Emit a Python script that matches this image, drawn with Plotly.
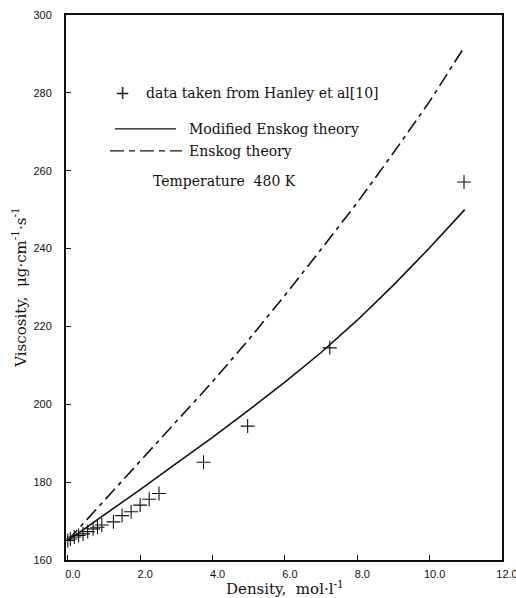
import plotly.graph_objects as go

# Experimental data (Hanley et al.)
data_x = [0.0, 0.07, 0.18, 0.30, 0.42, 0.55, 0.70, 0.82, 0.94, 1.26, 1.50, 1.75, 2.00, 2.25, 2.52, 3.75, 4.97, 7.24, 10.95]
data_y = [165.0, 165.4, 165.9, 166.3, 166.7, 167.3, 168.0, 168.4, 169.0, 169.8, 171.4, 172.4, 174.1, 175.6, 177.1, 185.1, 194.4, 214.5, 257.1]

# Modified Enskog theory
mod_x = [0.0, 1.0, 2.0, 3.0, 4.0, 5.0, 6.0, 7.0, 8.0, 9.0, 10.0, 10.97]
mod_y = [165.0, 171.5, 178.1, 184.8, 191.5, 198.5, 205.7, 213.3, 221.6, 230.6, 240.2, 250.0]

# Enskog theory
ens_x = [0.0, 1.0, 2.0, 3.0, 4.0, 5.0, 6.0, 7.0, 8.0, 9.0, 10.0, 10.92]
ens_y = [165.0, 175.2, 185.5, 195.6, 205.8, 216.6, 228.0, 239.8, 251.8, 264.6, 277.8, 291.2]

x_ticks = [0, 2, 4, 6, 8, 10, 12]
y_ticks = [160, 180, 200, 220, 240, 260, 280, 300]

SERIF = "DejaVu Serif"
INK = "#111111"

fig = go.Figure()
fig.add_trace(go.Scatter(x=mod_x, y=mod_y, mode="lines", line=dict(color=INK, width=1.6),
                         showlegend=False, hoverinfo="skip"))
fig.add_trace(go.Scatter(x=ens_x, y=ens_y, mode="lines",
                         line=dict(color=INK, width=1.6, dash="14px,5px,4px,5px"),
                         showlegend=False, hoverinfo="skip"))
fig.add_trace(go.Scatter(x=data_x, y=data_y, mode="markers",
                         marker=dict(symbol="cross-thin", size=10, line=dict(color=INK, width=1.1)),
                         showlegend=False))

W, H = 516, 598
L, R, T, B = 66, 14, 15, 37.5
pw, ph = W - L - R, H - T - B

def px(x):
    return (x - L) / pw

def py(y):
    return (H - B - y) / ph

TXT = 14
# legend-like keys
fig.add_annotation(x=px(122), y=py(93), xref="paper", yref="paper", text="+", showarrow=False,
                   font=dict(family=SERIF, size=18, color=INK), xanchor="center", yanchor="middle")
fig.add_annotation(x=px(144), y=py(93), xref="paper", yref="paper", text="data taken from Hanley et al[10]",
                   showarrow=False, font=dict(family=SERIF, size=TXT, color=INK), xanchor="left", yanchor="middle")
fig.add_shape(type="line", xref="paper", yref="paper", x0=px(115), x1=px(176), y0=py(129), y1=py(129),
              line=dict(color=INK, width=1.3))
fig.add_annotation(x=px(187), y=py(129), xref="paper", yref="paper", text="Modified Enskog theory",
                   showarrow=False, font=dict(family=SERIF, size=TXT, color=INK), xanchor="left", yanchor="middle")
fig.add_shape(type="line", xref="paper", yref="paper", x0=px(110), x1=px(182), y0=py(151), y1=py(151),
              line=dict(color=INK, width=1.3, dash="14px,5px,6px,5px"))
fig.add_annotation(x=px(187), y=py(151), xref="paper", yref="paper", text="Enskog theory",
                   showarrow=False, font=dict(family=SERIF, size=TXT, color=INK), xanchor="left", yanchor="middle")
fig.add_annotation(x=px(151), y=py(181), xref="paper", yref="paper", text="Temperature&nbsp; 480 K",
                   showarrow=False, font=dict(family=SERIF, size=TXT, color=INK), xanchor="left", yanchor="middle")

# axis titles
fig.add_annotation(x=px(285), y=py(589), xref="paper", yref="paper", text="Density,  mol·l<sup>-1</sup>",
                   showarrow=False, font=dict(family=SERIF, size=15, color=INK), xanchor="center", yanchor="middle")
fig.add_annotation(x=px(19), y=py(288), xref="paper", yref="paper",
                   text="Viscosity,  μg·cm<sup>-1</sup>·s<sup>-1</sup>", textangle=-90,
                   showarrow=False, font=dict(family=SERIF, size=15, color=INK), xanchor="center", yanchor="middle")

fig.update_layout(
    width=W, height=H,
    margin=dict(l=L, r=R, t=T, b=B),
    paper_bgcolor="white", plot_bgcolor="white",
    font=dict(family=SERIF, color=INK),
)
fig.update_xaxes(
    range=[-0.05, 12], tickvals=x_ticks, tickformat=".1f",
    ticks="inside", ticklen=5, tickwidth=1, tickcolor=INK,
    showline=True, linewidth=2, linecolor=INK, mirror=True,
    showgrid=False, zeroline=False, automargin=False,
    tickfont=dict(family="Liberation Sans", size=11, color=INK),
    ticklabelshift=5, ticklabelstandoff=3, ticklabeloverflow="allow",
)
fig.update_yaxes(
    range=[160, 300], tickvals=y_ticks,
    ticks="inside", ticklen=5, tickwidth=1, tickcolor=INK,
    showline=True, linewidth=2, linecolor=INK, mirror=True,
    showgrid=False, zeroline=False, automargin=False,
    tickfont=dict(family="Liberation Sans", size=11, color=INK),
    ticklabelstandoff=10, ticklabeloverflow="allow",
)

fig.write_html("out.html", config={"displayModeBar": False},
               post_script="document.body.style.margin='0';document.documentElement.style.overflow='hidden';")
